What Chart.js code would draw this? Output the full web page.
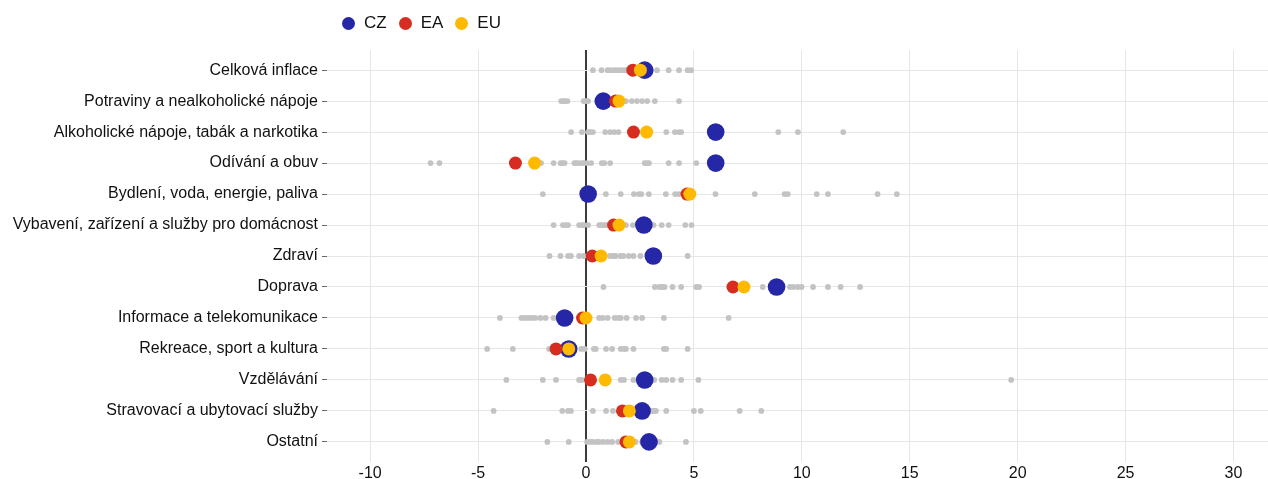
<!DOCTYPE html>
<html>
<head>
<meta charset="utf-8">
<script src="https://cdn.jsdelivr.net/npm/chart.js@4.4.0/dist/chart.umd.min.js"></script>
<style>
  html, body { margin: 0; padding: 0; background: #fff; }
  #wrap { position: relative; width: 1268px; height: 479px; }
  #legend { position: absolute; left: 342px; top: 12px; display: flex; font: 17px 'Liberation Sans', Arial, sans-serif; color: #111; }
  .item { display: flex; align-items: center; margin-right: 12px; line-height: 22px; }
  .dot { width: 13px; height: 13px; border-radius: 50%; margin-right: 9px; }
</style>
</head>
<body>
<div id="wrap">
  <div id="legend"></div>
  <canvas id="chart" width="1268" height="479"></canvas>
</div>
<script>
// Categories (top to bottom)
const categories = [
    'Celková inflace',
    'Potraviny a nealkoholické nápoje',
    'Alkoholické nápoje, tabák a narkotika',
    'Odívání a obuv',
    'Bydlení, voda, energie, paliva',
    'Vybavení, zařízení a služby pro domácnost',
    'Zdraví',
    'Doprava',
    'Informace a telekomunikace',
    'Rekreace, sport a kultura',
    'Vzdělávání',
    'Stravovací a ubytovací služby',
    'Ostatní'
];

// Highlighted series
const cz = [2.72, 0.80, 6.01, 6.01, 0.10, 2.68, 3.12, 8.83, -0.99, -0.80, 2.72, 2.60, 2.92];
const ea = [2.17, 1.37, 2.20, -3.27, 4.68, 1.28, 0.29, 6.81, -0.16, -1.39, 0.21, 1.69, 1.85];
const eu = [2.52, 1.53, 2.81, -2.38, 4.81, 1.53, 0.70, 7.32, 0.00, -0.80, 0.89, 2.01, 2.01];

// Other EU member states (grey dots), one list per category
const others = [
    [0.32, 0.72, 1.0, 1.12, 1.3, 1.44, 1.6, 1.76, 1.9, 2.0, 2.4, 2.8, 3.0, 3.29, 3.83, 4.31, 4.71, 4.87],
    [-1.15, -1.05, -0.99, -0.86, -0.11, 0.0, 0.1, 1.6, 1.85, 2.12, 2.36, 2.6, 2.84, 3.19, 4.31],
    [-0.69, -0.19, 0.1, 0.2, 0.32, 0.89, 1.12, 1.31, 1.5, 3.72, 4.12, 4.31, 4.41, 8.91, 9.82, 11.92],
    [-7.2, -6.79, -2.08, -1.5, -1.18, -1.08, -0.99, -0.54, -0.45, -0.35, -0.2, -0.11, 0.05, 0.24, 0.73, 0.85, 1.12, 2.72, 2.82, 2.92, 3.83, 4.31, 5.11],
    [-2.0, 0.92, 1.61, 2.22, 2.45, 2.56, 2.91, 3.7, 4.13, 4.3, 6.0, 7.82, 9.2, 9.35, 10.69, 11.21, 13.51, 14.4],
    [-1.5, -1.07, -0.95, -0.83, -0.32, -0.2, -0.11, 0.1, 0.61, 0.7, 0.8, 0.9, 1.0, 1.85, 2.17, 3.13, 3.51, 3.83, 4.6, 4.89],
    [-1.69, -1.18, -0.83, -0.7, -0.32, -0.11, 1.12, 1.25, 1.37, 1.6, 1.73, 1.98, 2.2, 2.52, 4.71],
    [0.81, 3.19, 3.4, 3.51, 3.64, 4.01, 4.41, 5.11, 5.24, 8.19, 9.45, 9.6, 9.81, 9.99, 10.52, 11.21, 11.8, 12.7],
    [-3.99, -2.99, -2.83, -2.67, -2.51, -2.35, -2.11, -1.87, -1.5, 0.61, 0.77, 1.0, 1.33, 1.5, 1.61, 1.88, 2.32, 2.6, 3.61, 6.61],
    [-4.58, -3.39, -1.71, -0.22, -0.06, 0.37, 0.45, 0.93, 1.21, 1.61, 1.75, 1.85, 2.2, 3.61, 3.72, 4.71],
    [-3.69, -2.0, -1.39, -0.32, -0.19, 1.61, 1.76, 2.2, 3.16, 3.51, 3.72, 4.01, 4.41, 5.21, 19.7],
    [-4.28, -1.1, -0.83, -0.7, 0.32, 0.93, 1.25, 2.3, 3.0, 3.08, 3.16, 3.24, 3.72, 5.0, 5.32, 7.12, 8.12],
    [-1.79, -0.8, 0.05, 0.2, 0.32, 0.5, 0.61, 0.8, 1.0, 1.21, 1.49, 2.3, 2.6, 3.0, 3.4, 4.63]
];

// X axis tick labels
const xTicks = [-10, -5, 0, 5, 10, 15, 20, 25, 30];

const seriesNames = ['CZ', 'EA', 'EU'];
const colors = { CZ: '#2527a6', EA: '#d62d20', EU: '#ffb900', other: '#c3c3c3' };

// HTML legend
const legend = document.getElementById('legend');
seriesNames.forEach(name => {
    const item = document.createElement('div');
    item.className = 'item';
    item.innerHTML = `<span class="dot" style="background:${colors[name]}"></span><span>${name}</span>`;
    legend.appendChild(item);
});

const toPoints = arr => arr.map((v, i) => ({ x: v, y: i }));
const otherPoints = [];
others.forEach((row, i) => row.forEach(v => otherPoints.push({ x: v, y: i })));

const font = "'Liberation Sans', Arial, sans-serif";

// Dataset 0 is drawn on top
const chart = new Chart(document.getElementById('chart'), {
    type: 'scatter',
    data: {
        datasets: [
            { label: 'EU', data: toPoints(eu), pointRadius: 6.5, backgroundColor: colors.EU, borderWidth: 0 },
            { label: 'EA', data: toPoints(ea), pointRadius: 6.5, backgroundColor: colors.EA, borderWidth: 0 },
            { label: 'CZ', data: toPoints(cz), pointRadius: 8.8, backgroundColor: colors.CZ, borderWidth: 0 },
            { label: 'ostatní', data: otherPoints, pointRadius: 2.9, backgroundColor: colors.other, borderWidth: 0 }
        ]
    },
    options: {
        responsive: false,
        animation: false,
        layout: { autoPadding: false, padding: { top: 50, right: 0, bottom: 0, left: 0 } },
        plugins: {
            legend: { display: false },
            tooltip: { enabled: false }
        },
        scales: {
            x: {
                type: 'linear',
                min: -12,
                max: 31.6,
                afterBuildTicks: s => { s.ticks = xTicks.map(v => ({ value: v })); },
                afterFit: s => { s.height = 21; },
                border: { display: false },
                grid: {
                    color: c => (c.tick && c.tick.value === 0 ? '#3c3c3c' : '#e6e6e6'),
                    lineWidth: c => (c.tick && c.tick.value === 0 ? 2 : 1),
                    tickLength: 4
                },
                ticks: { color: '#111', padding: 2, font: { family: font, size: 16 } }
            },
            y: {
                type: 'linear',
                min: -0.65,
                max: 12.52,
                reverse: true,
                afterBuildTicks: s => { s.ticks = categories.map((c, i) => ({ value: i })); },
                afterFit: s => { s.width = 327; },
                border: { display: false },
                grid: { color: '#e6e6e6', tickLength: 5, tickColor: '#666' },
                ticks: {
                    color: '#111',
                    padding: 4,
                    font: { family: font, size: 16 },
                    callback: v => categories[v]
                }
            }
        }
    }
});
</script>
</body>
</html>
